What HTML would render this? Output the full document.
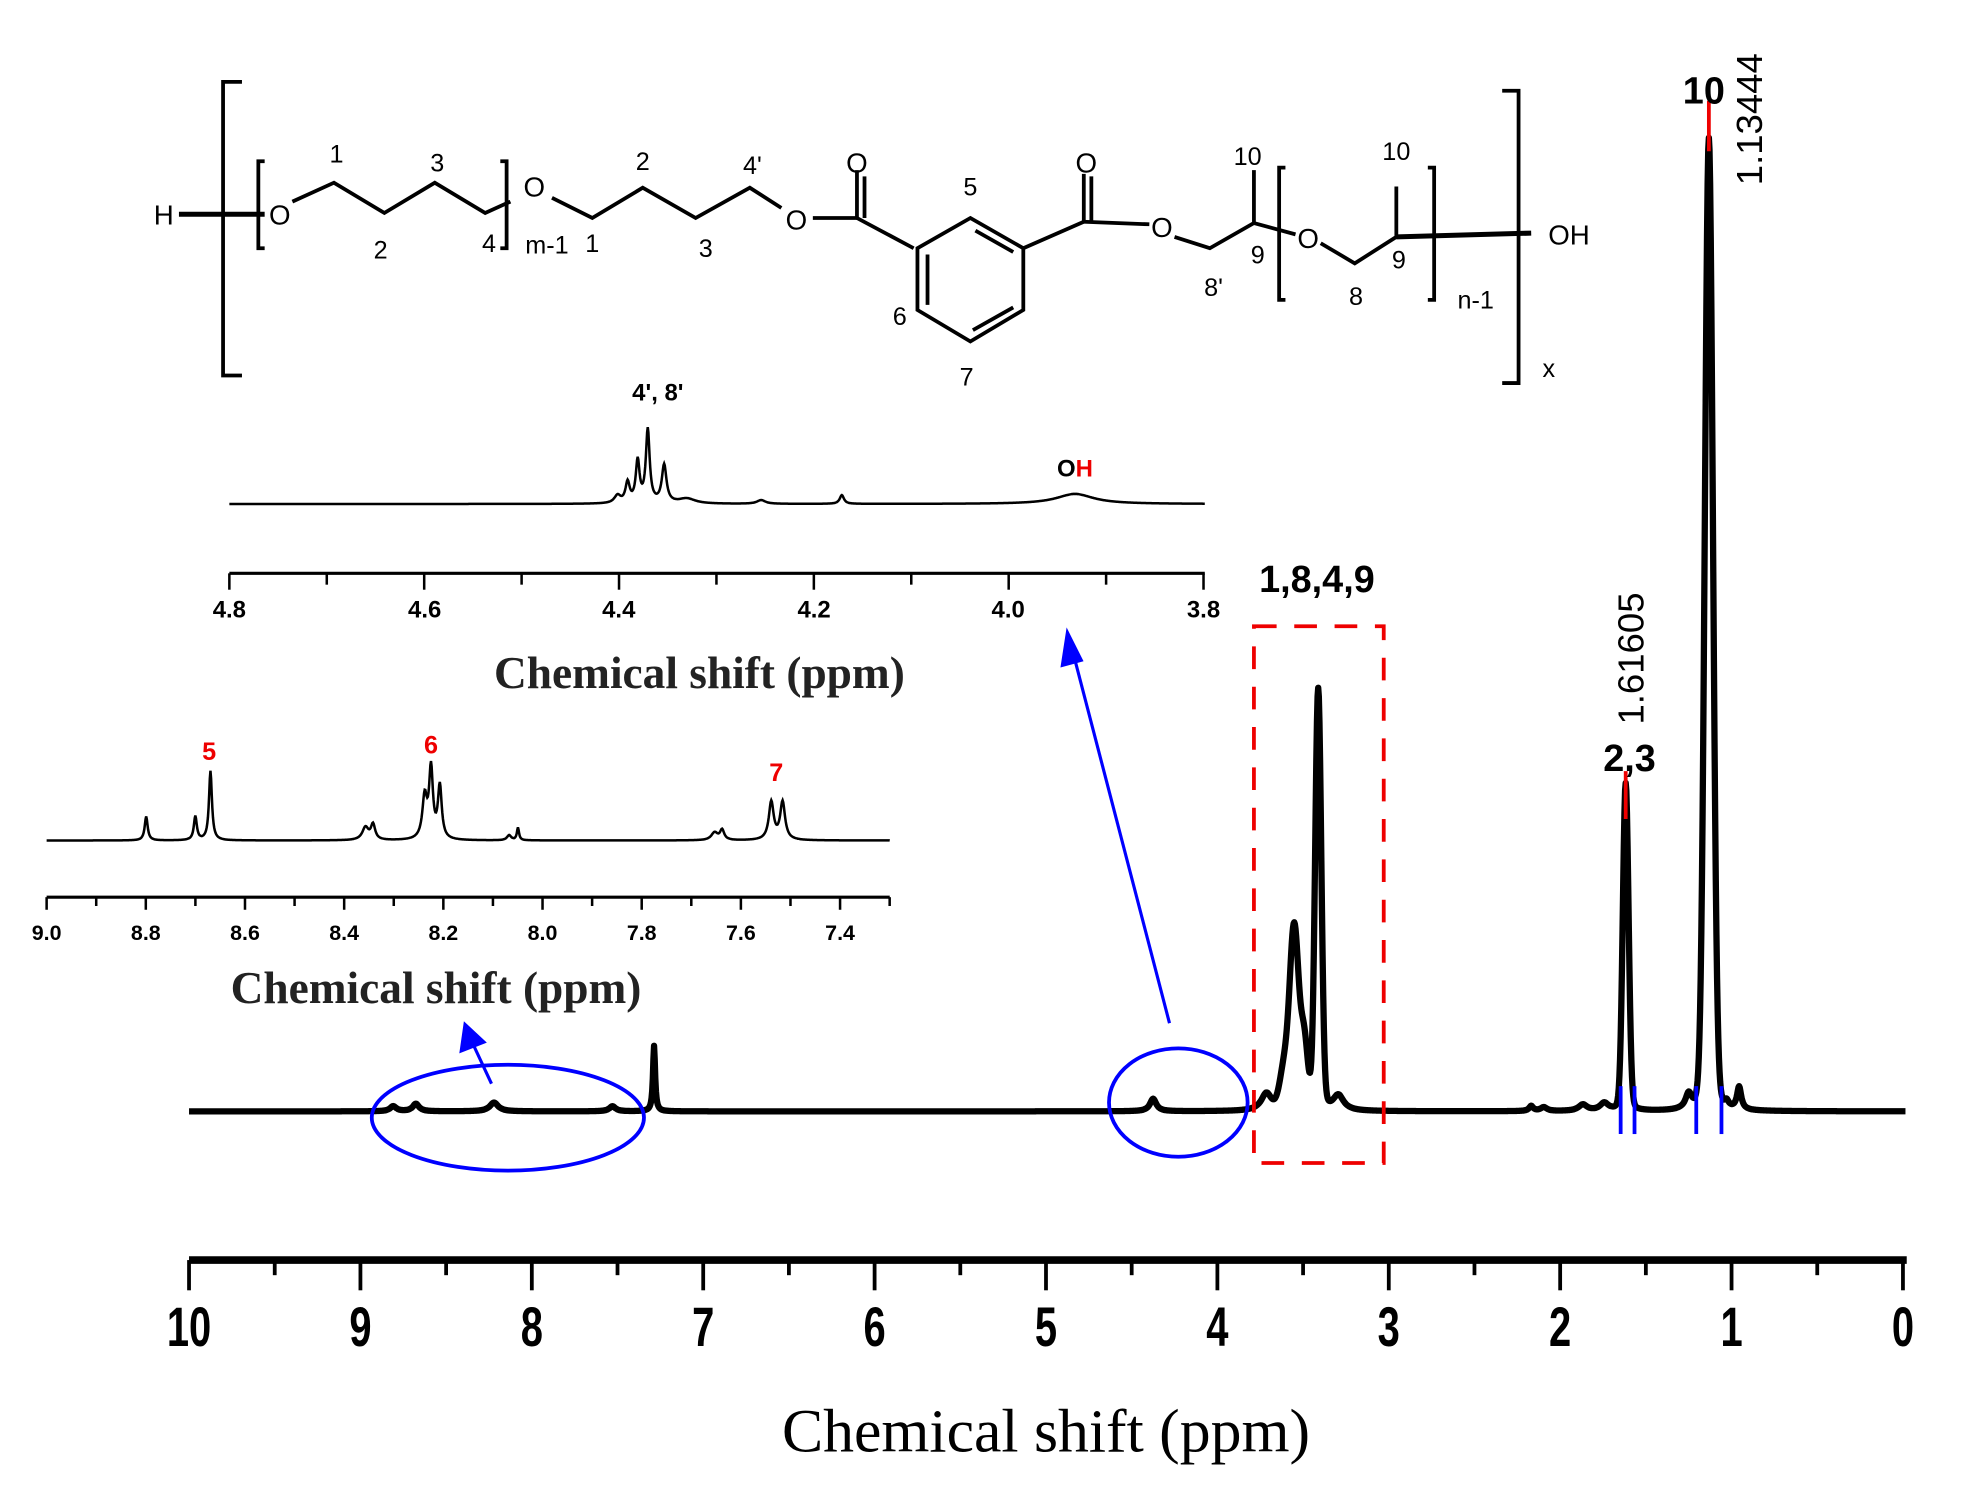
<!DOCTYPE html>
<html><head><meta charset="utf-8"><style>
html,body{margin:0;padding:0;background:#fff;}
svg{display:block;}
text{font-family:"Liberation Sans",Arial,sans-serif;}
.ser{font-family:"Liberation Serif","Times New Roman",serif;}
</style></head><body>
<svg id="s" width="1971" height="1502" viewBox="0 0 1564 1192" preserveAspectRatio="none" xmlns="http://www.w3.org/2000/svg">
<rect width="1564" height="1192" fill="#fff"/>
<g fill="none" stroke="#000" stroke-width="3" stroke-linejoin="miter">
<path d="M192,65 H177 V298 H192"/>
<path d="M1192,72 H1205 V304 H1192"/>
<path d="M210,128 H205 V197 H210"/>
<path d="M397,128 H402 V197 H397"/>
<path d="M1020,133 H1015 V238 H1020"/>
<path d="M1133,133 H1138 V238 H1133"/>
<path d="M142,170 H210" stroke-width="4"/>
<path d="M232,160 L265,145 L305,169 L345,145 L385,169 L405,160"/>
<path d="M438,157 L470,173 L510,149 L552,173 L595,149 L620,165"/>
<path d="M645,173 H680 V135"/><path d="M686,173 V140"/>
<path d="M680,173 L725,197"/>
<path d="M770,173 L812,197 L812,246 L770,271 L728,246 L728,197 Z"/>
<path d="M774,183 L804,200 M804,244 L772,262 M736,202 L736,242"/>
<path d="M812,197 L860,176 V138"/><path d="M866,176 V140"/>
<path d="M860,176 L912,178"/>
<path d="M932,188 L960,197 L995,177 V135"/>
<path d="M995,177 L1028,186"/>
<path d="M1048,193 L1075,209 L1108,188 V148"/>
<path d="M1108,188 L1215,185" stroke-width="4"/>
</g>
<g font-size="22" text-anchor="middle" fill="#000">
<text x="130" y="178">H</text><text x="222" y="178">O</text>
<text x="424" y="156">O</text><text x="632" y="182">O</text>
<text x="680" y="137">O</text><text x="862" y="137">O</text>
<text x="922" y="188">O</text><text x="1038" y="197">O</text>
<text x="1245" y="194">OH</text>
<g font-size="20">
<text x="267" y="129">1</text><text x="347" y="136">3</text><text x="302" y="205">2</text><text x="388" y="200">4</text>
<text x="434" y="201">m-1</text><text x="470" y="200">1</text><text x="510" y="135">2</text><text x="597" y="138">4'</text>
<text x="560" y="204">3</text><text x="770" y="155">5</text><text x="714" y="258">6</text><text x="767" y="306">7</text>
<text x="963" y="235">8'</text><text x="998" y="209">9</text><text x="1076" y="242">8</text><text x="1110" y="213">9</text>
<text x="990" y="131">10</text><text x="1108" y="127">10</text><text x="1171" y="245">n-1</text><text x="1229" y="299">x</text>
</g></g>
<path id="p1" fill="none" stroke="#000" stroke-width="2"/>
<line x1="182" y1="455" x2="956" y2="455" stroke="#000" stroke-width="2.5"/>
<g id="t1" stroke="#000" stroke-width="2"></g>
<g font-size="19" font-weight="bold" text-anchor="middle">
<text x="182" y="490">4.8</text><text x="337" y="490">4.6</text><text x="491" y="490">4.4</text><text x="646" y="490">4.2</text><text x="800" y="490">4.0</text><text x="955" y="490">3.8</text>
<text x="522" y="318">4', 8'</text>
<text x="853" y="378"><tspan>O</tspan><tspan fill="#e00">H</tspan></text>
</g>
<text class="ser" x="555" y="546" font-size="36" font-weight="bold" text-anchor="middle" fill="#222">Chemical shift (ppm)</text>
<path id="p2" fill="none" stroke="#000" stroke-width="2"/>
<line x1="37" y1="712" x2="706" y2="712" stroke="#000" stroke-width="2.5"/>
<g id="t2" stroke="#000" stroke-width="2"></g>
<g font-size="17" font-weight="bold" text-anchor="middle" id="l2"></g>
<text class="ser" x="346" y="796" font-size="36" font-weight="bold" text-anchor="middle" fill="#222">Chemical shift (ppm)</text>
<g font-size="20" font-weight="bold" fill="#e00" text-anchor="middle">
<text x="166" y="603">5</text><text x="342" y="598">6</text><text x="616" y="620">7</text></g>
<path id="pm" fill="none" stroke="#000" stroke-width="5" stroke-linejoin="round"/>
<line x1="1356" y1="80" x2="1356" y2="120" stroke="#e00" stroke-width="3"/>
<line x1="1290" y1="612" x2="1290" y2="650" stroke="#e00" stroke-width="3"/>
<g stroke="#00f" stroke-width="3">
<line x1="1286" y1="862" x2="1286" y2="900"/><line x1="1297" y1="862" x2="1297" y2="900"/>
<line x1="1346" y1="862" x2="1346" y2="900"/><line x1="1366" y1="862" x2="1366" y2="900"/></g>
<rect x="995" y="497" width="103" height="426" fill="none" stroke="#e00" stroke-width="3" stroke-dasharray="18,14"/>
<ellipse cx="403" cy="887" rx="108" ry="42" fill="none" stroke="#00f" stroke-width="3"/>
<ellipse cx="935" cy="875" rx="55" ry="43" fill="none" stroke="#00f" stroke-width="3"/>
<g stroke="#00f" stroke-width="2.5" fill="#00f">
<line x1="928" y1="812" x2="852" y2="520"/><polygon points="847,502 843,528 858,524"/>
<line x1="390" y1="860" x2="376" y2="830"/><polygon points="369,813 366,834 384,827"/></g>
<g font-weight="bold" font-size="30" text-anchor="middle">
<text x="1045" y="470">1,8,4,9</text><text x="1293" y="612">2,3</text><text x="1352" y="82">10</text></g>
<text transform="translate(1304,575) rotate(-90)" font-size="29">1.61605</text>
<text transform="translate(1398,147) rotate(-90)" font-size="29">1.13444</text>
<line x1="150" y1="1000" x2="1513" y2="1000" stroke="#000" stroke-width="6"/>
<g id="tm" stroke="#000" stroke-width="3"></g>
<g id="lm" font-size="44" font-weight="bold" text-anchor="middle"></g>
<text class="ser" x="830" y="1152" font-size="49" text-anchor="middle">Chemical shift (ppm)</text>
</svg>
<script>
function spec(x0,x1,base,pk,gk){var d="";gk=gk||[];for(var x=x0;x<=x1;x+=0.5){var y=base;for(var i=0;i<pk.length;i++){var p=pk[i],u=(x-p[0])/p[2];y-=p[1]/(1+u*u);}for(var i=0;i<gk.length;i++){var p=gk[i],u=(x-p[0])/p[2];y-=p[1]*Math.exp(-u*u);}d+=(d?"L":"M")+x.toFixed(1)+","+y.toFixed(1);}return d;}
document.getElementById("pm").setAttribute("d",spec(150,1512,882,[[1356,22,7],[1290,10,5],[1046,14,5],[1027,10,6],[1005,14,5],[1062,12,5],[519,52,1],[915,10,3],[392,7,4],[330,6,3],[312,4,3],[486,4,3],[1380,18,2],[1340,12,3],[1256,5,4],[1273,6,4],[1215,4,2],[1225,3,3],[1370,5,2]],[[1356,750,4.5],[1290,250,3.2],[1046,320,3.4],[1027,135,5],[1035,50,4],[1019,30,5]]));
document.getElementById("p1").setAttribute("d",spec(182,956,400,[[514,58,1.8],[506,33,1.8],[527,30,2.2],[498,16,2],[490,6,3],[668,7,2],[853,8,18],[545,4,8],[604,3,4]]));
document.getElementById("p2").setAttribute("d",spec(37,706,667,[[116,19,1.4],[155,19,1.4],[167,55,1.4],[290,10,3],[296,12,2],[337,33,2.2],[342,55,1.8],[349,42,1.8],[411,10,1],[404,4,2],[567,6,3],[573,8,2],[612,30,2.3],[621,30,2.3]]));
var ns="http://www.w3.org/2000/svg";
function ln(g,x1,y1,x2,y2){var l=document.createElementNS(ns,"line");l.setAttribute("x1",x1);l.setAttribute("y1",y1);l.setAttribute("x2",x2);l.setAttribute("y2",y2);g.appendChild(l);}
function tx(g,x,y,s){var t=document.createElementNS(ns,"text");t.setAttribute("x",x);t.setAttribute("y",y);t.textContent=s;g.appendChild(t);}
var g=document.getElementById("t1");for(var i=0;i<=10;i++){var x=182+i*77.3;ln(g,x,455,x,i%2?464:468);}
g=document.getElementById("t2");var l2=document.getElementById("l2");
for(var i=0;i<=17;i++){var x=37+i*39.35;ln(g,x,712,x,i%2?719:722);if(i%2==0&&i<=16)tx(l2,x,746,(9-i*0.1).toFixed(1));}
g=document.getElementById("tm");var lm=document.getElementById("lm");
for(var i=0;i<=20;i++){var x=150+i*68;ln(g,x,1000,x,i%2?1012:1024);if(i%2==0){var t=document.createElementNS(ns,"text");t.setAttribute("transform","translate("+x+",1068) scale(0.72,1)");t.textContent=String(10-i/2);lm.appendChild(t);}}
</script>
</body></html>
